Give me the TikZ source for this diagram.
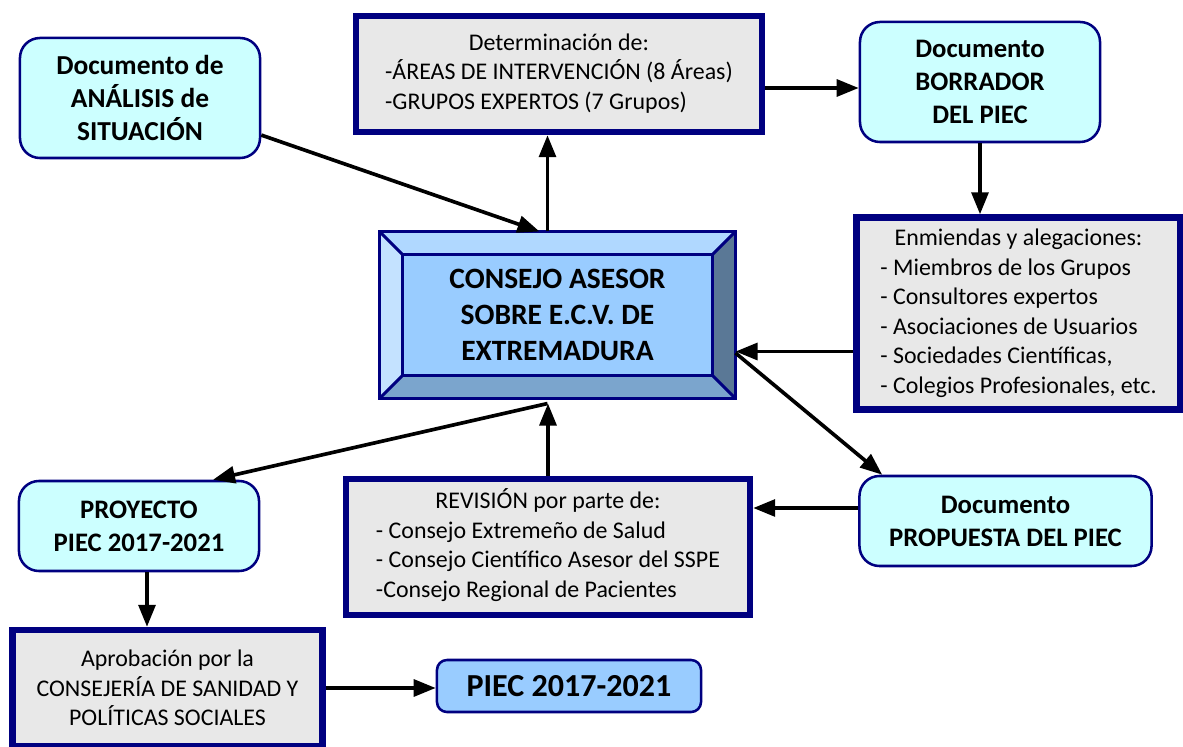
\documentclass[tikz,border=0pt]{standalone}
\usepackage{fontspec}
\setmainfont{Carlito}
\usetikzlibrary{arrows.meta,backgrounds}

\definecolor{navy}{HTML}{000080}
\definecolor{docfill}{HTML}{CCFFFF}
\definecolor{listfill}{HTML}{E8E8E8}
\definecolor{consfill}{HTML}{99CCFF}
\definecolor{bevtop}{HTML}{B0D8FF}
\definecolor{bevleft}{HTML}{C4E2FF}
\definecolor{bevright}{HTML}{5A7896}
\definecolor{bevbottom}{HTML}{7BA5CD}

\tikzset{
  docbox/.style={draw=navy, line width=1.8pt, fill=docfill, rounded corners=0.5cm,
    align=center, inner sep=0pt, font=\bfseries\fontsize{19}{23.5}\selectfont},
  listbox/.style={draw=navy, line width=4.5pt, fill=listfill, align=center,
    inner sep=0pt, font=\fontsize{17}{21}\selectfont},
  consbox/.style={outer sep=0pt, inner sep=0pt, align=center,
    minimum width=8.9cm, minimum height=4.175cm,
    font=\bfseries\fontsize{21}{25.5}\selectfont},
  bevline/.style={draw=navy, line width=2.2pt, line join=miter},
  arr/.style={line width=2.6pt, -{Triangle[length=0.55cm,width=0.42cm]}},
}

\begin{document}
\begin{tikzpicture}[x=0.025cm,y=-0.025cm]
  \useasboundingbox (0,0) rectangle (1183,747);

  % boxes
  \node[docbox, minimum width=6cm, minimum height=3cm,
    font=\bfseries\fontsize{19.5}{23.5}\selectfont] (ana) at (140,98)
    {Documento de\\ANÁLISIS de\\SITUACIÓN};
  \node[listbox, minimum width=10.15cm, minimum height=2.9cm] (det) at (559,74)
    {\begin{tabular}{@{}l@{}}\multicolumn{1}{c}{Determinación de:}\\
     -ÁREAS DE INTERVENCIÓN (8 Áreas)\\-GRUPOS EXPERTOS (7 Grupos)\end{tabular}};
  \node[docbox, minimum width=6cm, minimum height=3cm] (bor) at (980,82)
    {Documento\\BORRADOR\\DEL PIEC};
  \node[listbox, minimum width=8.1cm, minimum height=4.8cm] (enm) at (1018.5,313.5)
    {\begin{tabular}{@{}l@{}}\multicolumn{1}{c}{Enmiendas y alegaciones:}\\
     - Miembros de los Grupos\\- Consultores expertos\\- Asociaciones de Usuarios\\
     - Sociedades Científicas,\\- Colegios Profesionales, etc.\end{tabular}};
  \node[consbox] (cons) at (557.5,315) {CONSEJO ASESOR\\SOBRE E.C.V. DE\\EXTREMADURA};
  \node[docbox, minimum width=6cm, minimum height=2.25cm] (pro) at (139,526)
    {PROYECTO\\PIEC 2017-2021};
  \node[listbox, minimum width=10.1cm, minimum height=3.4cm] (rev) at (548,547)
    {\begin{tabular}{@{}l@{}}\multicolumn{1}{c}{REVISIÓN por parte de:}\\
     - Consejo Extremeño de Salud\\- Consejo Científico Asesor del SSPE\\
     -Consejo Regional de Pacientes\end{tabular}};
  \node[docbox, minimum width=7.3cm, minimum height=2.25cm] (prop) at (1005.5,521)
    {Documento\\PROPUESTA DEL PIEC};
  \node[listbox, minimum width=7.75cm, minimum height=2.9cm] (apr) at (167.5,688)
    {Aprobación por la\\CONSEJERÍA DE SANIDAD Y\\POLÍTICAS SOCIALES};
  \node[docbox, fill=consfill, rounded corners=0.25cm, minimum width=6.6cm,
    minimum height=1.3cm, font=\bfseries\fontsize{22.8}{26}\selectfont] (piec) at (569,686)
    {PIEC 2017-2021};

  % bevel of the council box
  \begin{scope}[on background layer]
    \coordinate (inw) at ([shift={(23,23)}]cons.north west);
    \coordinate (ine) at ([shift={(-23,23)}]cons.north east);
    \coordinate (ise) at ([shift={(-23,-23)}]cons.south east);
    \coordinate (isw) at ([shift={(23,-23)}]cons.south west);
    \fill[bevtop] (cons.north west) -- (cons.north east) -- (ine) -- (inw) -- cycle;
    \fill[bevleft] (cons.north west) -- (inw) -- (isw) -- (cons.south west) -- cycle;
    \fill[bevright] (cons.north east) -- (cons.south east) -- (ise) -- (ine) -- cycle;
    \fill[bevbottom] (cons.south west) -- (isw) -- (ise) -- (cons.south east) -- cycle;
    \fill[consfill] (inw) rectangle (ise);
    \draw[bevline] (cons.north west) rectangle (cons.south east);
    \draw[bevline] (inw) rectangle (ise);
    \draw[bevline] (cons.north west) -- (inw) (cons.north east) -- (ine)
      (cons.south east) -- (ise) (cons.south west) -- (isw);
  \end{scope}

  % connectors
  \draw[arr] (ana.-17) -- ([xshift=-0.45cm]cons.north);
  \draw[arr] ([xshift=-0.25cm]cons.north) -- ([xshift=-0.25cm]cons.north |- det.south);
  \draw[arr] ([yshift=-0.15cm]bor.west -| det.east) -- ([yshift=-0.15cm]bor.west);
  \draw[arr] (bor.south) -- (bor.south |- enm.north);
  \draw[arr] ([yshift=-0.95cm]enm.west) -- ([yshift=-0.95cm]enm.west -| cons.east);
  \draw[arr] ([yshift=-0.95cm]cons.east) -- ([xshift=0.6cm]prop.north west);
  \draw[arr] ([yshift=0.325cm]prop.west) -- ([yshift=0.325cm]prop.west -| rev.east);
  \draw[arr] (rev.north) -- ([yshift=-0.125cm]rev.north |- cons.south);
  \draw[arr] ([xshift=-0.25cm,yshift=-0.125cm]cons.south) -- ([xshift=1.85cm]pro.north);
  \draw[arr] ([xshift=0.2cm]pro.south) -- ([xshift=0.2cm]pro.south |- apr.north);
  \draw[arr] (apr.east) -- (apr.east -| piec.west);
\end{tikzpicture}
\end{document}
